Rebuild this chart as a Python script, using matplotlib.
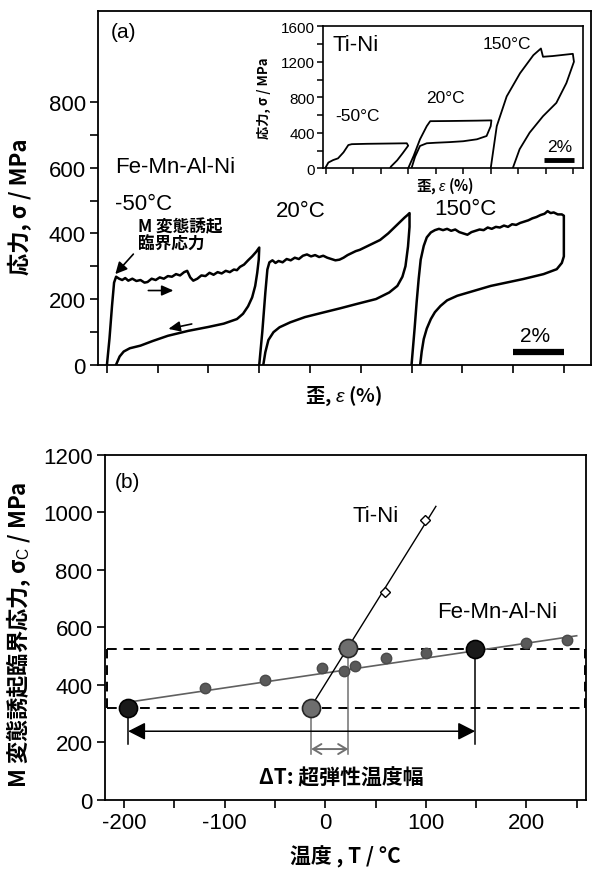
import matplotlib.pyplot as plt

plt.rcParams['font.family'] = ['Liberation Sans', 'Noto Sans CJK JP']
plt.rcParams['axes.unicode_minus'] = False
plt.rcParams['mathtext.fontset'] = 'custom'
plt.rcParams['mathtext.rm'] = 'Liberation Sans'
plt.rcParams['mathtext.it'] = 'Liberation Sans:italic'
plt.rcParams['mathtext.bf'] = 'Liberation Sans:bold'
JP = ['Noto Sans CJK JP', 'DejaVu Sans']

# ---- (a) Fe-Mn-Al-Ni loops (strain relative to start of each loop, %) ----
fe_labels = ['-50°C', '20°C', '150°C']
fe_offsets = [0, 3, 6]

m50_load_e = [0.0, 0.05, 0.10, 0.14, 0.18, 0.24, 0.30, 0.36, 0.42, 0.50, 0.58, 0.66, 0.74,
              0.80, 0.88, 0.96, 1.04, 1.12, 1.20, 1.28, 1.36, 1.44, 1.52, 1.58, 1.64, 1.70,
              1.78, 1.86, 1.94, 2.02, 2.10, 2.18, 2.26, 2.34, 2.42, 2.50, 2.56, 2.62, 2.70,
              2.78, 2.86, 2.94, 3.00]
m50_load_s = [0, 80, 180, 250, 268, 262, 258, 264, 256, 262, 255, 258, 250,
              252, 262, 258, 266, 262, 270, 268, 276, 272, 282, 286, 266, 256,
              262, 272, 270, 280, 274, 282, 278, 286, 282, 290, 288, 298, 305,
              318, 330, 344, 357]
m50_unload_e = [3.00, 2.99, 2.96, 2.92, 2.86, 2.78, 2.68, 2.56, 2.30, 2.00, 1.60, 1.20,
                0.90, 0.66, 0.45, 0.33, 0.25, 0.18]
m50_unload_s = [357, 320, 280, 240, 205, 178, 155, 139, 125, 115, 103, 88,
                72, 58, 50, 40, 25, 0]

r20_load_e = [0.0, 0.06, 0.12, 0.16, 0.20, 0.26, 0.32, 0.38, 0.46, 0.54, 0.62, 0.70, 0.78,
              0.86, 0.94, 1.02, 1.10, 1.18, 1.26, 1.34, 1.42, 1.50, 1.58, 1.66, 1.74, 1.82,
              1.90, 1.98, 2.06, 2.14, 2.22, 2.30, 2.38, 2.46, 2.54, 2.62, 2.70, 2.78, 2.86,
              2.92, 2.96]
r20_load_s = [0, 100, 220, 290, 312, 318, 310, 316, 312, 322, 318, 326, 322,
              332, 336, 330, 334, 328, 332, 326, 322, 318, 320, 326, 334, 340,
              346, 350, 356, 362, 368, 374, 380, 390, 400, 412, 424, 436, 448,
              456, 462]
r20_unload_e = [2.96, 2.96, 2.93, 2.88, 2.82, 2.72, 2.56, 2.30, 1.92, 1.60, 1.26, 0.90,
                0.61, 0.40, 0.28, 0.18, 0.12, 0.08]
r20_unload_s = [462, 420, 360, 300, 268, 240, 220, 200, 185, 172, 159, 145,
                129, 114, 99, 75, 38, 0]

h150_load_e = [0.0, 0.06, 0.10, 0.14, 0.18, 0.24, 0.30, 0.38, 0.46, 0.54, 0.62, 0.70, 0.78,
               0.86, 0.94, 1.02, 1.10, 1.18, 1.26, 1.34, 1.42, 1.50, 1.58, 1.66, 1.74, 1.82,
               1.90, 1.98, 2.06, 2.14, 2.22, 2.30, 2.38, 2.46, 2.54, 2.62, 2.68, 2.74, 2.80,
               2.88, 2.96, 3.00]
h150_load_s = [0, 110, 190, 261, 320, 362, 388, 403, 410, 414, 410, 414, 408,
               412, 404, 400, 396, 404, 408, 412, 410, 418, 414, 420, 418, 424,
               420, 428, 426, 432, 436, 440, 446, 450, 456, 460, 468, 462, 464,
               458, 458, 454]
h150_unload_e = [3.00, 3.00, 3.00, 2.96, 2.86, 2.60, 2.20, 1.56, 0.90, 0.70, 0.57, 0.46,
                 0.38, 0.30, 0.24, 0.20, 0.17]
h150_unload_s = [454, 400, 330, 310, 291, 276, 261, 240, 210, 196, 179, 160,
                 139, 110, 78, 40, 0]

# ---- inset: Ti-Ni loops ----
tn_labels = ['-50°C', '20°C', '150°C']
tn_offsets = [0, 6, 12]
tn_m50_e = [0.0, 0.2, 0.55, 0.9, 1.3, 1.65, 1.9, 3.0, 4.0, 5.0, 5.9, 6.0, 5.6, 5.2, 4.75, 4.68]
tn_m50_s = [10, 65, 93, 112, 180, 262, 272, 276, 278, 280, 282, 255, 170, 90, 20, 0]
tn_r20_e = [0.0, 0.4, 0.86, 1.35, 1.6, 3.0, 5.0, 6.05, 6.0, 5.7, 5.0, 4.0, 3.0, 2.0,
            1.35, 0.86, 0.5, 0.24]
tn_r20_s = [0, 141, 327, 475, 531, 533, 537, 540, 475, 364, 327, 305, 295, 288,
            282, 252, 130, 0]
tn_h150_e = [0.0, 0.44, 1.16, 2.13, 3.1, 3.65, 3.8, 4.5, 5.97, 6.05, 5.5, 4.77, 3.8,
             2.83, 2.1, 1.6]
tn_h150_s = [0, 475, 810, 1071, 1275, 1350, 1257, 1265, 1290, 1201, 960, 737, 587,
             402, 215, 0]

# ---- (b) critical stress vs temperature ----
fe_T = [-120, -60, -3, 19, 30, 60, 100, 200, 240]
fe_sc = [388, 417, 459, 449, 464, 492, 511, 544, 556]
fe_fit_T = [-196, 250]
fe_fit_s = [339, 570]
fe_big_T = [-196, 149]
fe_big_s = [318, 524]
tn_T = [59, 99]
tn_sc = [723, 974]
tn_fit_T = [-12, 110]
tn_fit_s = [335, 1020]
tn_big_T = [-14, 23]
tn_big_s = [318, 528]

fig = plt.figure(figsize=(5.92, 8.70), dpi=100)

# ================= (a) =================
ax1 = fig.add_axes([0.1661, 0.5797, 0.8318, 0.4069])
curves = [(m50_load_e + m50_unload_e, m50_load_s + m50_unload_s),
          (r20_load_e + r20_unload_e, r20_load_s + r20_unload_s),
          (h150_load_e + h150_unload_e, h150_load_s + h150_unload_s)]
for (e, s), off in zip(curves, fe_offsets):
    ax1.plot([v + off for v in e], s, color='k', lw=1.8, solid_joinstyle='round')

ax1.set_xlim(-0.17, 9.53)
ax1.set_ylim(0, 1079)
ax1.set_xticks(range(10))
ax1.set_xticklabels([])
ax1.set_yticks([0, 200, 400, 600, 800])
ax1.set_yticks([100, 300, 500, 700], minor=True)
ax1.tick_params(which='both', direction='out', length=6, width=1.2, labelsize=16, pad=3)
for sp in ax1.spines.values():
    sp.set_linewidth(1.3)

ax1.set_ylabel('応力, σ / MPa', family=JP, fontsize=16, fontweight='bold')
ax1.yaxis.set_label_coords(-0.135, 0.45)
ax1.set_xlabel('歪, $\\mathit{ε}$ (%)', family=JP, fontsize=14, fontweight='bold')
ax1.xaxis.set_label_coords(0.497, -0.055)

ax1.text(0.065, 1014, '(a)', fontsize=15, va='center', ha='left')
ax1.text(0.165, 605, 'Fe-Mn-Al-Ni', fontsize=16, va='center', ha='left')
ax1.text(0.165, 490, fe_labels[0], fontsize=16, va='center', ha='left')
ax1.text(3.82, 470, fe_labels[1], fontsize=16, va='center', ha='center')
ax1.text(7.07, 475, fe_labels[2], fontsize=16, va='center', ha='center')
ax1.text(0.62, 395, 'M 変態誘起\n臨界応力', family=JP, fontsize=12, fontweight='bold',
         va='center', ha='left', linespacing=1.0)
ax1.annotate('', xy=(0.165, 276), xytext=(0.52, 337),
             arrowprops=dict(arrowstyle='-|>,head_length=0.5,head_width=0.25', lw=1.2,
                             color='k', mutation_scale=14, shrinkA=0, shrinkB=0))
ax1.annotate('', xy=(1.31, 226), xytext=(0.815, 226),
             arrowprops=dict(arrowstyle='-|>,head_length=0.5,head_width=0.22', lw=1.2,
                             color='k', mutation_scale=14, shrinkA=0, shrinkB=0))
ax1.annotate('', xy=(1.21, 109), xytext=(1.67, 124),
             arrowprops=dict(arrowstyle='-|>,head_length=0.5,head_width=0.22', lw=1.2,
                             color='k', mutation_scale=14, shrinkA=0, shrinkB=0))
ax1.plot([8, 9], [38, 38], color='k', lw=4.5, solid_capstyle='butt')
ax1.text(8.43, 88, '2%', fontsize=15, ha='center', va='center')

# inset
axi = fig.add_axes([0.5461, 0.8054, 0.4392, 0.1632])
tn_curves = [(tn_m50_e, tn_m50_s), (tn_r20_e, tn_r20_s), (tn_h150_e, tn_h150_s)]
for (e, s), off in zip(tn_curves, tn_offsets):
    axi.plot([v + off for v in e], s, color='k', lw=1.3)
axi.set_xlim(-0.17, 18.73)
axi.set_ylim(0, 1600)
axi.set_xticks(range(0, 19, 2))
axi.set_xticklabels([])
axi.set_yticks([0, 400, 800, 1200, 1600])
axi.set_yticks([200, 600, 1000, 1400], minor=True)
axi.tick_params(which='both', direction='out', length=4, width=1.1, labelsize=11, pad=2)
for sp in axi.spines.values():
    sp.set_linewidth(1.2)
axi.set_ylabel('応力, σ / MPa', family=JP, fontsize=9.5, fontweight='bold')
axi.yaxis.set_label_coords(-0.2, 0.5)
axi.set_xlabel('歪, $\\mathit{ε}$ (%)', family=JP, fontsize=10.5, fontweight='bold')
axi.xaxis.set_label_coords(0.468, -0.04)
axi.text(0.5, 1400, 'Ti-Ni', fontsize=16, va='center', ha='left')
axi.text(2.3, 600, tn_labels[0], fontsize=12.5, va='center', ha='center')
axi.text(8.7, 800, tn_labels[1], fontsize=12.5, va='center', ha='center')
axi.text(13.2, 1410, tn_labels[2], fontsize=12.5, va='center', ha='center')
axi.plot([15.9, 18.05], [96, 96], color='k', lw=3.5, solid_capstyle='butt')
axi.text(17.0, 250, '2%', fontsize=12.5, ha='center', va='center')

# ================= (b) =================
ax2 = fig.add_axes([0.1774, 0.0797, 0.8120, 0.3966])
ax2.set_xlim(-219, 259)
ax2.set_ylim(0, 1200)

dash = (0, (5, 3.5))
ax2.plot([-217, 258], [318, 318], color='k', lw=1.4, ls=dash)
ax2.plot([-217, 258], [524, 524], color='k', lw=1.4, ls=dash)
ax2.plot([-217, -217], [318, 524], color='k', lw=1.4, ls=dash)
ax2.plot([258, 258], [318, 524], color='k', lw=1.4, ls=dash)

for t, s in zip(fe_big_T, fe_big_s):
    ax2.plot([t, t], [s, 194], color='k', lw=1.1)
for t, s in zip(tn_big_T, tn_big_s):
    ax2.plot([t, t], [s, 158], color='#707070', lw=1.1)

ax2.plot(fe_fit_T, fe_fit_s, color='#606060', lw=1.2, zorder=3)
ax2.plot(fe_T, fe_sc, 'o', color='#5a5a5a', ms=7.5, mec='#4a4a4a', zorder=4)
ax2.plot(fe_big_T, fe_big_s, 'o', color='#1a1a1a', ms=13, mec='k', mew=1.2, zorder=5)
ax2.plot(tn_fit_T, tn_fit_s, color='k', lw=1.0, zorder=3)
ax2.plot(tn_T, tn_sc, 'D', color='white', ms=5, mec='k', mew=1.0, zorder=4)
ax2.plot(tn_big_T, tn_big_s, 'o', color='#6e6e6e', ms=13, mec='#262626', mew=1.2, zorder=5)

ax2.annotate('', xy=(fe_big_T[0], 238), xytext=(fe_big_T[1], 238),
             arrowprops=dict(arrowstyle='<|-|>,head_length=0.55,head_width=0.28', lw=1.1,
                             color='k', mutation_scale=19, shrinkA=0, shrinkB=0))
ax2.annotate('', xy=(tn_big_T[0], 176), xytext=(tn_big_T[1], 176),
             arrowprops=dict(arrowstyle='<->,head_length=0.5,head_width=0.3', lw=1.4,
                             color='#707070', mutation_scale=12, shrinkA=0, shrinkB=0))

ax2.text(16, 80, 'ΔT: 超弾性温度幅', family=JP, fontsize=15, fontweight='bold',
         ha='center', va='center')
ax2.text(50, 990, 'Ti-Ni', fontsize=16, ha='center', va='center')
ax2.text(171, 653, 'Fe-Mn-Al-Ni', fontsize=16, ha='center', va='center')
ax2.text(-209, 1105, '(b)', fontsize=15, ha='left', va='center')

ax2.set_xticks([-200, -100, 0, 100, 200])
ax2.set_xticks([-150, -50, 50, 150, 250], minor=True)
ax2.set_yticks(range(0, 1201, 200))
ax2.tick_params(which='both', direction='out', length=6, width=1.2, labelsize=16, pad=3)
for sp in ax2.spines.values():
    sp.set_linewidth(1.3)

ax2.set_ylabel('M 変態誘起臨界応力, σ$_\\mathrm{C}$ / MPa', family=JP, fontsize=16,
               fontweight='bold')
ax2.yaxis.set_label_coords(-0.15, 0.48)
ax2.set_xlabel('温度 , T / °C', family=JP, fontsize=15, fontweight='bold')
ax2.xaxis.set_label_coords(0.501, -0.13)

fig.savefig('out.png', dpi=100)
